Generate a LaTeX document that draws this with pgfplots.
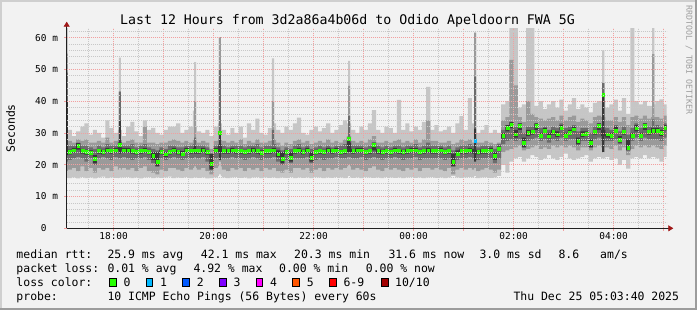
\documentclass[border=0pt]{standalone}
\usepackage{fontspec}
\usepackage{pgfplots}
\pgfplotsset{compat=1.18}
\usepackage{pgfplotstable}
\usepgfplotslibrary{fillbetween}
\usetikzlibrary{arrows.meta}
\newfontfamily\mono{DejaVu Sans Mono}
\newcommand\tickfont{\mono\fontsize{9.5}{10}\selectfont}
\newcommand\legfont{\mono\fontsize{11.5}{12}\selectfont}
\newcommand\titfont{\mono\fontsize{13.3}{14}\selectfont}
\newcommand\wmfont{\mono\fontsize{8.3}{9}\selectfont}
\definecolor{bgc}{HTML}{F2F2F2}
\definecolor{shadeA}{HTML}{CFCFCF}
\definecolor{shadeB}{HTML}{9C9C9C}
\definecolor{mgridc}{HTML}{F2A0A0}
\definecolor{gridc}{HTML}{C8C8C8}
\definecolor{axisc}{HTML}{202020}
\definecolor{arrowc}{HTML}{A01818}
\definecolor{smokeA}{HTML}{C6C6C6}
\definecolor{smokeB}{HTML}{9A9A9A}
\definecolor{smokeC}{HTML}{6C6C6C}
\definecolor{smokeD}{HTML}{383838}
\definecolor{loss0}{HTML}{26FF00}
\definecolor{loss1}{HTML}{00B8FF}
\definecolor{loss2}{HTML}{0059FF}
\definecolor{loss3}{HTML}{7E00FF}
\definecolor{loss4}{HTML}{FF00FF}
\definecolor{loss5}{HTML}{FF5500}
\definecolor{loss6}{HTML}{FF0000}
\definecolor{loss10}{HTML}{A10000}

% t = minutes after 17:00; a/b light smoke, c/d mid, e/f dark, g/h core, m = median rtt (ms)
\pgfplotstableread{
t a b c d e f g h m
0 16 66 18 55 21 49 23 40 33.8
5 15.8 31 18.5 27.5 21.5 26 23.3 24.8 24.0
10 16 29 19 27 22 26 23.8 25.3 24.6
15 15.7 30.5 18 28 22.5 27 24.8 26.8 25.9
20 16.2 32 19.5 27.5 22 26 23.5 25 24.3
25 15.8 33 18 28 21 26 23.2 24.8 24.0
30 16 29.5 19 27 22 25.5 23 24.5 23.8
35 15.7 31 17.5 27 20 25 20.5 23 21.9
40 16 30 19 27.5 22 26 23.5 25 24.3
45 16.3 28.5 18.5 27 22.5 25.5 23.3 24.7 24.0
50 15.8 34 19 28.5 22 26.5 23.8 25.3 24.6
55 16 31.5 18 27 21.5 26 23.5 25 24.3
60 15.9 30 19.5 27.5 22.5 26 23.8 25.3 24.6
65 15.8 31 18.5 28 22 27 24.5 27 26.4
66.25 16 53.7 19 43 22 43 23.5 33.8 nan
68.75 15.8 31 18.5 28 22 27 24.5 27 nan
70 16 29 19 27 22.5 26 23.8 25.3 24.6
75 16.2 32 18.5 27.5 22 26 23.8 25.3 24.6
80 15.8 33.5 19 28 21.5 26.5 23.5 25 24.3
85 16 30.5 18 27 22 25.5 23.3 24.7 24.0
90 15.7 29 19 27 22 26 23.5 25 24.3
95 16 34 19.5 32 22.5 26.5 23.8 25.3 24.6
100 16.1 31 18 27 21.5 25.5 23.3 24.7 24.0
105 15.8 31.6 17.5 27 20.5 25 21.5 24 22.8
110 16 30 17 26.5 19.5 24.5 19.5 24 20.9
115 15.9 29.5 18.5 27 22 25.5 23.3 24.7 24.0
120 16 31 18 27 21.5 25 22.5 24 23.3
125 16.3 32 19 27.5 22 26 23.3 24.7 24.0
130 15.8 32 19 28 22.5 26 23.8 25.3 24.6
135 16 33 18.5 27.5 22 25.5 23.3 24.7 24.0
140 15.9 30 18 27 21.5 25.5 22.8 24.3 23.6
145 16.2 31 19 27.5 22 26 23.8 25.3 24.6
150 15.8 32 18.5 27 22 26 23.5 25 24.3
155 16 37 19 28 22 26.5 23.8 25.3 24.6
156.5 16 52.3 19.5 40 22.5 28.5 23.5 26 nan
159 16 32 19 27.5 22 26 23.5 25 nan
160 15.9 30.5 18.5 27 22 26 23.5 25 24.3
165 16 30 19 27.5 22.5 26 23.8 25.3 24.6
170 15.7 31 18 27 21 25.5 23.2 24.7 24.0
175 15.8 29 17 25 19 23 18.5 23.5 20.3
180 16 32 19 27.5 22 26 23.8 25.3 24.6
185 16.5 33 19.5 28 22.5 26.5 24 26 30.0
186.25 17 60.2 21 60.2 21.5 50 21.5 30 nan
188.75 16.5 33 19.5 28 22.5 26.5 24 26 nan
190 16 31 18.5 27.5 22 26 23.5 25 24.3
195 15.8 29.5 18 27 22 25.5 23.5 25 24.3
200 16 31.5 19 27.5 22.5 26 23.8 25.3 24.6
205 16.2 30 18.5 27 22 26 23.5 25 24.3
210 15.9 32 19 28 22 26 23.5 25 24.3
215 16 28.5 18 26.5 21.5 25.5 23.3 24.7 24.0
220 15.7 33 19 27.5 22 26 23.5 25 24.3
225 16 31 18.5 27 22.5 26 23.8 25.3 24.6
230 16.1 34.5 19 28 22 26.5 23.5 25 24.3
235 15.8 30 18 27 21.5 25.5 23 24.5 23.8
240 16 29.5 19 27 22 26 23.5 25 24.3
245 15.9 31.5 18.5 27.5 22 26 23.5 25 24.3
250 16 53.5 19 40 22.5 31 23.8 25.3 24.6
252.5 16 33 19 28 22.5 26.5 23.8 25.3 nan
255 15.8 31 18 27 21 25.5 22.5 24.5 23.3
260 16 30 17.5 26 20 24.5 20.5 24 22.0
265 15.9 32 18.5 27 21.5 25.5 23.3 24.7 24.0
270 16.2 31 17.5 26.5 20.5 25 21 24 22.3
275 15.8 33 19 27.5 22 26 23.5 25 24.3
280 16 34.8 19 28 22 26.5 23.8 25.3 24.6
285 15.9 30 18.5 27 22 25.5 23.3 24.7 24.0
290 16 29.5 19 27.5 22.5 26 23.8 25.3 24.6
295 15.8 31 17.5 26.5 20.5 25 21 24 22.2
300 16.1 32 18.5 27 21.5 25.5 23.3 24.7 24.0
305 16 30.5 19 27.5 22 26 23.5 25 24.3
310 15.8 31.5 18 27 21.5 25.5 23.3 24.7 24.0
315 16 33 19 28 22 26 23.8 25.3 24.6
320 15.9 30 18.5 27 22 25.5 23.5 25 24.3
325 16.2 31 19 27.5 22.5 26 23.8 25.3 24.6
330 16 32.5 18.5 27 22 26 23.3 24.7 24.0
335 15.8 34 19 28 22 26.5 23.5 25 24.3
340 16 33 19.5 29 22.5 27.5 24 28.6 28.3
341.25 16.5 52.7 20 44.8 22.5 35.3 24 28.6 nan
343.75 16 33 19.5 29 22.5 27.5 24 27 nan
345 15.9 31 18.5 27.5 22 26 23.5 25 24.3
350 16 30 19 27 22 26 23.8 25.3 24.6
355 15.8 32 18.5 27.5 22.5 26 23.8 25.3 24.6
360 16.1 31 18 27 21.5 25.5 23.3 24.7 24.0
365 16 33 19 28 22 26 23.5 25 24.3
370 15.9 37.2 19.5 29 22.5 27 24.5 27 26.2
375 16 31 18.5 27 22 26 23.5 25 24.3
380 15.8 30 18 27 21.5 25.5 23.3 24.7 24.0
385 16.2 32 19 27.5 22 26 23.5 25 24.3
390 16 31.5 18.5 27 22 25.5 23.3 24.7 24.0
395 15.9 30 19 27.5 22.5 26 23.8 25.3 24.6
400 16 40.4 18.5 28 22 26 23.5 25 24.3
405 15.8 31 18 27 21.5 25.5 23.3 24.7 24.0
410 16 33 19 27.5 22 26 23.5 25 24.3
415 16.1 30.5 18.5 27 22 26 23.8 25.3 24.6
420 15.9 32 19 28 22.5 26.5 23.8 25.3 24.6
425 16 31 18 27 21.5 25.5 23.3 24.7 24.0
430 15.8 33.5 19 28 22 26 23.5 25 24.3
435 16 44.5 19 34 22 27 23.8 25.3 24.6
440 16.2 31 18.5 27.5 22 26 23.5 25 24.3
445 15.9 32.5 19 27.5 22 26 23.5 25 24.3
450 16 30.5 18.5 27 22 26 23.8 25.3 24.6
455 15.8 31 18 27 21.5 25.5 23.3 24.7 24.0
460 16 32 19 27.5 22 26 23.5 25 24.3
465 16.5 30 17 26.5 19.5 24.5 19.5 23.5 20.9
470 16 33 18.5 27 21.5 25.5 23 24.5 23.6
475 15.9 35.3 19 28 22 26 23.5 25 24.3
480 16 31 18.5 27.5 22 26 23.5 25 24.3
485 16.2 41 19 28 22.5 26.5 23.8 25.3 24.6
490 16 33 18.5 27 22 26 23.5 25 nan
492.5 16.5 61.6 19 61.6 22 47.7 21 31.4 nan
495 15.8 30 18 27 21.5 25.5 23.3 24.7 24.0
500 16 31 18.5 27 22 26 23.5 25 24.3
505 16.1 32.5 19 27.5 22 26 23.5 25 24.3
510 15.9 30 18.5 27 22 26 23.8 25.3 24.6
515 16 31 17.5 26.5 20.5 25 21.5 24 22.8
520 16.5 30 18.5 27 22 26.5 24.3 25.8 25.1
525 20 39 24 34 26.5 31 28.3 30 29.1
530 17.5 40 24.5 35 27.5 32 30.5 32.5 31.7
535 21 66 25 53 28 33 31.5 33.5 32.7
540 22 66 25.5 45 27.5 32 28.5 31 29.6
545 22.5 38 26 35 28 33 31 33 32.2
550 21 39 24.5 33.5 25.5 30 25.5 28.5 27.0
555 22 66 25 40 27.5 32 29 31 30.1
560 23 66 25.5 36 28 32 29.5 31 30.3
565 22.5 38.5 26 35 28.5 33 31 33 32.2
570 21.5 40 25 34.5 27.5 31.5 28.5 30 29.1
575 22 37.5 25.5 34 28 32 30 31.5 30.6
580 23 39 25 34.5 27 31 28.3 30 29.0
585 22 40 26 35 28 32 29.5 31 30.3
590 21.5 38 25.5 34 27.5 31.5 28.8 30.5 29.6
595 22.5 40.5 26 35.5 28.5 33 31 32.5 31.7
600 23.5 37 25.5 34 27.5 31.5 28.5 30 29.1
605 22 39 26 35 28 32 29.3 31 30.1
610 21.5 41 25.5 35.5 28 32.5 30.5 32 31.2
615 22 37.5 24.5 33.5 26 30.5 26.5 28.5 27.5
620 22.5 39 25.5 34.5 27.5 31.5 28.8 30.5 29.6
625 23 38 25.5 34 27.5 31.5 29 30.5 29.9
630 21 36.5 24.5 33 25.5 30 25.5 28 27.0
635 22 39.5 25.5 35 28 32 29.5 31 30.3
640 22.5 40 26 35.5 28.5 33 31 33 32.2
645 22 40 25.5 35 27.5 32 29 31 42.1
646.25 22 56 25.5 45.8 27 45.8 24 42.1 nan
648.75 22 40 25.5 35 27.5 32 29 31 nan
650 22.5 38 25.5 34 27.5 31.5 28.5 30 29.6
655 21.5 39 25 34 27.5 31 28.3 30 29.1
660 22 40.5 26 35 28 32.5 30 32 30.6
665 20 37 24.5 33.5 26.5 30.5 27 29 28.0
670 21.5 41 25.5 35 28 32 29.5 31 30.3
675 18.8 36 23 32.5 24.5 29.5 24.5 28 25.4
680 22 66 25 35 27.5 31.5 28.5 30 29.1
685 22.5 40 26 35.5 28.5 33 30.5 32.5 31.5
690 22 39 25.5 34.5 27.5 31.5 28.5 30 29.1
695 23 40 26 35.5 28.5 33 31 33 32.2
700 22 38.5 25.5 34.5 28 32 29.5 31 30.3
705 22.5 38.5 26 35 28 32 29.8 31.5 30.6
706.25 22.5 66 26 54.8 28 34.3 29.8 31.5 nan
708.75 22.5 39 26 35 28 32 29.8 31.5 nan
710 22 40 25.5 35 28 32.5 30 31.5 30.6
715 21 40.6 25 34.5 27.5 32 29 31 30.1
720 22.5 39 26 35.5 28.5 33 30.8 32.5 31.6
725 22.5 39 26 35.5 28.5 33 30.8 32.5 nan
}\smoke

\begin{document}
\begin{tikzpicture}
\fill[bgc] (-66.7bp,-81.7bp) rectangle (630.3bp,228.3bp);
\fill[shadeA] (-66.7bp,226.3bp) rectangle (630.3bp,228.3bp);
\fill[shadeA] (-66.7bp,-81.7bp) rectangle (-64.7bp,228.3bp);
\fill[shadeB] (-66.7bp,-81.7bp) rectangle (630.3bp,-79.2bp);
\fill[shadeB] (628.3bp,-81.7bp) rectangle (630.3bp,228.3bp);
\begin{axis}[
  at={(0,0)}, anchor=south west,
  scale only axis, width=600bp, height=200bp,
  xmin=3.67, xmax=723.67, ymin=0, ymax=62.95,
  axis background/.style={fill=white},
  axis x line*=bottom, axis y line*=left,
  axis line style={draw=axisc, line width=0.8bp},
  x axis line style={-{Triangle[length=5bp,width=6bp,color=arrowc]}, shorten >=-6.6bp},
  y axis line style={-{Triangle[length=5bp,width=6bp,color=arrowc]}, shorten >=-6.6bp},
  xtick={60,120,...,720},
  xticklabels={18:00,,20:00,,22:00,,00:00,,02:00,,04:00,},
  minor xtick={30,90,...,690},
  ytick={0,10,...,60},
  yticklabels={0\hphantom{\ m},10 m,20 m,30 m,40 m,50 m,60 m},
  minor ytick={2,4,6,8,12,14,16,18,22,24,26,28,32,34,36,38,42,44,46,48,52,54,56,58,62},
  grid=both,
  major grid style={draw=mgridc, dash pattern=on 1bp off 1bp, line width=0.7bp},
  minor grid style={draw=gridc, dash pattern=on 1bp off 1bp, line width=0.7bp},
  tick align=outside, major tick length=2.5bp, minor tick length=0bp,
  tick style={draw=mgridc, line width=0.7bp},
  xticklabel style={font=\tickfont, anchor=base, inner sep=0pt, yshift=-9bp},
  yticklabel style={font=\tickfont, anchor=east, inner sep=0pt, xshift=-6bp},
  axis on top,
  clip marker paths=true,
  fill between/on layer=main,
]
\addplot[name path=Alo, draw=none, const plot, forget plot] table[x=t, y=a]{\smoke};
\addplot[name path=Ahi, draw=none, const plot, forget plot] table[x=t, y=b]{\smoke};
\addplot[fill=smokeA, draw=none, forget plot] fill between[of=Ahi and Alo];
\addplot[name path=Blo, draw=none, const plot, forget plot] table[x=t, y=c]{\smoke};
\addplot[name path=Bhi, draw=none, const plot, forget plot] table[x=t, y=d]{\smoke};
\addplot[fill=smokeB, draw=none, forget plot] fill between[of=Bhi and Blo];
\addplot[name path=Clo, draw=none, const plot, forget plot] table[x=t, y=e]{\smoke};
\addplot[name path=Chi, draw=none, const plot, forget plot] table[x=t, y=f]{\smoke};
\addplot[fill=smokeC, draw=none, forget plot] fill between[of=Chi and Clo];
\addplot[name path=Dlo, draw=none, const plot, forget plot] table[x=t, y=g]{\smoke};
\addplot[name path=Dhi, draw=none, const plot, forget plot] table[x=t, y=h]{\smoke};
\addplot[fill=smokeD, draw=none, forget plot] fill between[of=Dhi and Dlo];
\addplot[only marks, mark=square*, mark size=1.4bp, color=loss0] table[x expr=\thisrow{t}+2.5, y=m]{\smoke};
\addplot[only marks, mark=square*, mark size=1.4bp, color=loss1] coordinates {(493.75,27.5)};
\end{axis}
% title and side texts
\node[anchor=base, inner sep=0pt, font=\titfont] at (280.8bp,203.3bp) {Last 12 Hours from 3d2a86a4b06d to Odido Apeldoorn FWA 5G};
\node[rotate=90, inner sep=0pt, font=\legfont] at (-56.2bp,100bp) {Seconds};
\node[rotate=-90, inner sep=0pt, font=\wmfont, text=black!38] at (622.3bp,168.3bp) {RRDTOOL / TOBI OETIKER};
% legend rows
\begin{scope}[every node/.style={anchor=base west, inner sep=0pt, font=\legfont}]
\node at (-50.4bp,-29.7bp) {median rtt:};
\node at (40.6bp,-29.7bp) {25.9 ms avg};
\node at (134bp,-29.7bp) {42.1 ms max};
\node at (227.3bp,-29.7bp) {20.3 ms min};
\node at (321.6bp,-29.7bp) {31.6 ms now};
\node at (412.6bp,-29.7bp) {3.0 ms sd};
\node at (491.6bp,-29.7bp) {8.6};
\node at (533.3bp,-29.7bp) {am/s};
\node at (-50.4bp,-43.7bp) {packet loss:};
\node at (40.6bp,-43.7bp) {0.01 \% avg};
\node at (126.6bp,-43.7bp) {4.92 \% max};
\node at (212.3bp,-43.7bp) {0.00 \% min};
\node at (299bp,-43.7bp) {0.00 \% now};
\node at (-50.4bp,-57.7bp) {loss color:};
\node at (56.6bp,-57.7bp) {0};
\node at (93.3bp,-57.7bp) {1};
\node at (130bp,-57.7bp) {2};
\node at (166.6bp,-57.7bp) {3};
\node at (203.3bp,-57.7bp) {4};
\node at (240bp,-57.7bp) {5};
\node at (276.6bp,-57.7bp) {6-9};
\node at (328.3bp,-57.7bp) {10/10};
\node at (-50.4bp,-71.7bp) {probe:};
\node at (40.6bp,-71.7bp) {10 ICMP Echo Pings (56 Bytes) every 60s};
\node at (446.6bp,-71.7bp) {Thu Dec 25 05:03:40 2025};
\end{scope}
\begin{scope}[line width=0.6bp, draw=black]
\filldraw[fill=loss0] (42.6bp,-57.7bp) rectangle ++(6.7bp,7.5bp);
\filldraw[fill=loss1] (79.3bp,-57.7bp) rectangle ++(6.7bp,7.5bp);
\filldraw[fill=loss2] (116bp,-57.7bp) rectangle ++(6.7bp,7.5bp);
\filldraw[fill=loss3] (152.6bp,-57.7bp) rectangle ++(6.7bp,7.5bp);
\filldraw[fill=loss4] (189.3bp,-57.7bp) rectangle ++(6.7bp,7.5bp);
\filldraw[fill=loss5] (226bp,-57.7bp) rectangle ++(6.7bp,7.5bp);
\filldraw[fill=loss6] (262.6bp,-57.7bp) rectangle ++(6.7bp,7.5bp);
\filldraw[fill=loss10] (315bp,-57.7bp) rectangle ++(6.7bp,7.5bp);
\end{scope}
\end{tikzpicture}
\end{document}
